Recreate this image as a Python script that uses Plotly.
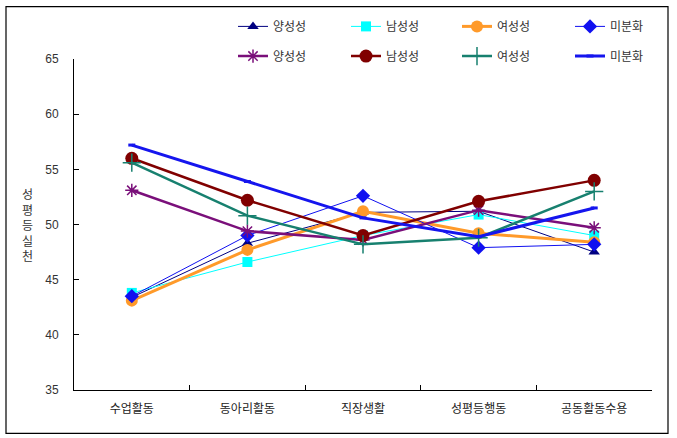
import plotly.graph_objects as go

categories = ["수업활동", "동아리활동", "직장생활", "성평등행동", "공동활동수용"]

names = ["양성성", "남성성", "여성성", "미분화", "양성성", "남성성", "여성성", "미분화"]

s1_androgynous = [43.4, 48.3, 51.1, 51.2, 47.5]
s1_masculine = [43.8, 46.6, 49.0, 50.9, 49.0]
s1_feminine = [43.1, 47.7, 51.2, 49.2, 48.4]
s1_undiff = [43.5, 49.0, 52.6, 47.9, 48.2]
s2_androgynous = [53.1, 49.4, 48.6, 51.3, 49.7]
s2_masculine = [56.0, 52.2, 49.0, 52.1, 54.0]
s2_feminine = [55.6, 50.8, 48.2, 48.8, 53.0]
s2_undiff = [57.2, 53.9, 50.6, 48.9, 51.5]

y_ticks = [35, 40, 45, 50, 55, 60, 65]

series = [s1_androgynous, s1_masculine, s1_feminine, s1_undiff,
          s2_androgynous, s2_masculine, s2_feminine, s2_undiff]

styles = [
    dict(color="#000080", width=1, symbol="triangle-up", size=10),
    dict(color="#00FFFF", width=1, symbol="square", size=10),
    dict(color="#FF9A2A", width=3, symbol="circle", size=12),
    dict(color="#1010F0", width=1, symbol="diamond", size=11),
    dict(color="#7A0F7A", width=2.5, symbol="asterisk-open", size=11),
    dict(color="#800000", width=2.5, symbol="circle", size=13),
    dict(color="#17806F", width=2.5, symbol="cross-thin-open", size=13),
    dict(color="#1515EE", width=3, symbol="line-ew-open", size=5),
]

# legend item layout (pixels): column starts and row centres
col_px = [233, 346, 457, 570]
row_px = [22, 52]

L, R, T, B = 74, 25, 55, 48
W, H = 677, 438
pw, ph = W - L - R, H - T - B

fig = go.Figure()
legends = {}
for i, (nm, vals, st) in enumerate(zip(names, series, styles)):
    mline = dict(width=1.5, color=st["color"]) if "open" in st["symbol"] else dict(width=0)
    if st["symbol"] == "line-ew-open":
        mline = dict(width=3, color=st["color"])
    key = "legend" if i == 0 else f"legend{i + 1}"
    fig.add_trace(go.Scatter(
        x=categories, y=vals, name=nm, mode="lines+markers",
        line=dict(color=st["color"], width=st["width"]),
        marker=dict(symbol=st["symbol"], size=st["size"], color=st["color"], line=mline),
        legend=key,
    ))
    cx = col_px[i % 4]
    ry = row_px[i // 4]
    legends[key] = dict(
        x=(cx - L) / pw, y=(H - B - ry) / ph, xanchor="left", yanchor="middle",
        orientation="h", font=dict(family="Noto Sans CJK KR", size=12, color="#333333"),
        bgcolor="rgba(0,0,0,0)", itemclick=False, borderwidth=0,
    )

fig.update_layout(
    width=W, height=H,
    margin=dict(l=L, r=R, t=T, b=B),
    paper_bgcolor="white", plot_bgcolor="white",
    font=dict(family="Noto Sans CJK KR", size=12, color="#333333"),
    showlegend=True,
    xaxis=dict(type="category", range=[-0.5, 4.5], showline=True, linecolor="black",
               linewidth=1, ticks="inside", tickson="boundaries", ticklen=5,
               tickcolor="black", showgrid=False, zeroline=False, ticklabelstandoff=8,
               tickfont=dict(size=12, color="#222222")),
    yaxis=dict(range=[35, 65], tickvals=y_ticks, showline=True, linecolor="black",
               linewidth=1, ticks="inside", ticklen=5, tickcolor="black",
               showgrid=False, zeroline=False, ticklabelstandoff=12,
               tickfont=dict(family="Liberation Sans", size=12, color="#333333")),
    shapes=[dict(type="rect", xref="paper", yref="paper",
                 x0=(6 - L) / pw, x1=(668 - L) / pw,
                 y0=(H - B - 434) / ph, y1=(H - B - 2) / ph,
                 line=dict(color="black", width=1.2), fillcolor="rgba(0,0,0,0)", layer="below")],
    annotations=[dict(text="성<br>평<br>등<br>실<br>천", xref="paper", yref="paper",
                      x=(20 - L) / pw, y=(H - B - 222) / ph, showarrow=False,
                      font=dict(size=12, color="#333333"), align="center")],
    **legends,
)

fig.write_html("out.html")
